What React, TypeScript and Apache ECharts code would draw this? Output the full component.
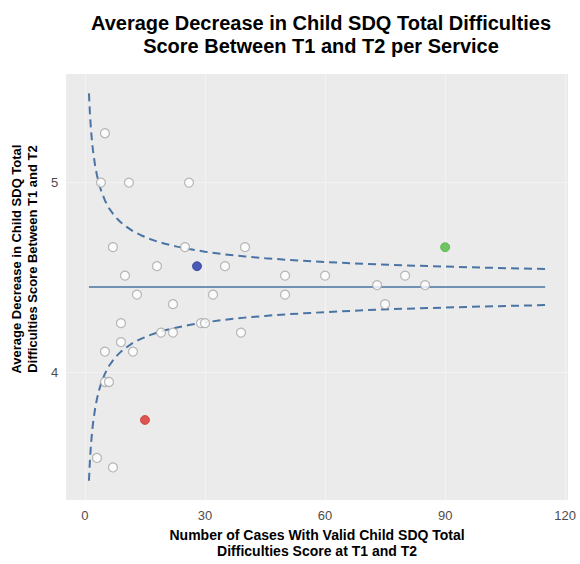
import React, { useEffect, useRef } from "react";
import * as echarts from "echarts";

const chartTitle = "Average Decrease in Child SDQ Total Difficulties\nScore Between T1 and T2 per Service";
const xAxisName = "Number of Cases With Valid Child SDQ Total\nDifficulties Score at T1 and T2";
const yAxisName = "Average Decrease in Child SDQ Total\nDifficulties Score Between T1 and T2";

const xTicks = [0, 30, 60, 90, 120];
const yTicks = [4, 5];

// Services (white points): number of cases, average decrease
const serviceCases = [5, 4, 11, 26, 7, 25, 40, 18, 35, 10, 50, 60, 80, 13, 32, 50, 73, 85, 22, 75, 9, 29, 30, 19, 22, 39, 9, 5, 12, 5, 6, 3, 7];
const serviceScores = [5.26, 5.0, 5.0, 5.0, 4.66, 4.66, 4.66, 4.56, 4.56, 4.51, 4.51, 4.51, 4.51, 4.41, 4.41, 4.41, 4.46, 4.46, 4.36, 4.36, 4.26, 4.26, 4.26, 4.21, 4.21, 4.21, 4.16, 4.11, 4.11, 3.95, 3.95, 3.55, 3.5];

// Highlighted services
const blueService = [28, 4.56];
const redService = [15, 3.75];
const greenService = [90, 4.66];

// Overall mean line
const meanCases = [1, 115];
const meanValue = 4.45;

// Control limits
const limitCases = [1, 1.25, 1.5, 1.75, 2, 2.5, 3, 3.5, 4, 5, 6, 7, 8, 9, 10, 12, 14, 16, 18, 20, 23, 26, 30, 35, 40, 45, 50, 60, 70, 80, 90, 100, 115];
const upperLimit = [5.47, 5.362, 5.283, 5.221, 5.171, 5.095, 5.039, 4.995, 4.96, 4.906, 4.866, 4.836, 4.811, 4.79, 4.773, 4.744, 4.723, 4.705, 4.69, 4.678, 4.663, 4.65, 4.636, 4.622, 4.611, 4.602, 4.594, 4.582, 4.572, 4.564, 4.558, 4.552, 4.545];
const lowerLimit = [3.43, 3.538, 3.617, 3.679, 3.729, 3.805, 3.861, 3.905, 3.94, 3.994, 4.034, 4.064, 4.089, 4.11, 4.127, 4.156, 4.177, 4.195, 4.21, 4.222, 4.237, 4.25, 4.264, 4.278, 4.289, 4.298, 4.306, 4.318, 4.328, 4.336, 4.342, 4.348, 4.355];

const FONT = "'Liberation Sans', Arial, Helvetica, sans-serif";

export default function App() {
  const ref = useRef<HTMLDivElement>(null);

  useEffect(() => {
    if (!ref.current) return;
    const chart = echarts.init(ref.current, undefined, { renderer: "svg" });
    const lineColor = "#4a74a3";
    const option: any = {
      animation: false,
      backgroundColor: "#ffffff",
      textStyle: { fontFamily: FONT },
      title: {
        text: chartTitle,
        left: 316,
        top: 6,
        textAlign: "center",
        textStyle: { fontFamily: FONT, fontSize: 20, fontWeight: "bold", color: "#000", lineHeight: 23 },
      },
      grid: {
        left: 65,
        right: 12,
        top: 74,
        bottom: 60,
        show: true,
        backgroundColor: "#EBEBEB",
        borderWidth: 0,
      },
      xAxis: {
        type: "value",
        min: -4.7,
        max: 120.7,
        name: xAxisName,
        nameLocation: "middle",
        nameGap: 26,
        nameTextStyle: { fontFamily: FONT, fontSize: 14, fontWeight: "bold", color: "#000", lineHeight: 16 },
        axisLine: { show: false },
        axisTick: { show: false, customValues: xTicks },
        axisLabel: { customValues: xTicks, color: "#4D4D4D", fontSize: 13, margin: 9, fontFamily: FONT },
        splitLine: { show: true, lineStyle: { color: "#F3F3F3", width: 1 } },
      },
      yAxis: {
        type: "value",
        min: 3.328,
        max: 5.572,
        name: yAxisName,
        nameLocation: "middle",
        nameGap: 21,
        nameRotate: 90,
        nameTextStyle: { fontFamily: FONT, fontSize: 13, fontWeight: "bold", color: "#000", lineHeight: 16, padding: [0, 0, 0, 56] },
        axisLine: { show: false },
        axisTick: { show: false, customValues: yTicks },
        axisLabel: { customValues: yTicks, color: "#4D4D4D", fontSize: 13, margin: 8, fontFamily: FONT },
        splitLine: { show: true, lineStyle: { color: "#F3F3F3", width: 1 } },
      },
      series: [
        {
          type: "line",
          name: "Upper limit",
          data: limitCases.map((n, i) => [n, upperLimit[i]]),
          showSymbol: false,
          lineStyle: { color: lineColor, width: 2, type: [8, 5] },
          z: 2,
        },
        {
          type: "line",
          name: "Lower limit",
          data: limitCases.map((n, i) => [n, lowerLimit[i]]),
          showSymbol: false,
          lineStyle: { color: lineColor, width: 2, type: [8, 5] },
          z: 2,
        },
        {
          type: "line",
          name: "Mean",
          data: meanCases.map((n) => [n, meanValue]),
          showSymbol: false,
          lineStyle: { color: "#4a72a0", width: 1.5 },
          z: 2,
        },
        {
          type: "scatter",
          name: "Services",
          data: serviceCases.map((n, i) => [n, serviceScores[i]]),
          symbolSize: 9,
          itemStyle: { color: "#ffffff", borderColor: "#a6a6a6", borderWidth: 1.2 },
          z: 3,
        },
        {
          type: "scatter",
          name: "Blue",
          data: [blueService],
          symbolSize: 9,
          itemStyle: { color: "#2234a8", borderColor: "#1a2a90", borderWidth: 0.8 },
          z: 4,
        },
        {
          type: "scatter",
          name: "Red",
          data: [redService],
          symbolSize: 9,
          itemStyle: { color: "#d9302a", borderColor: "#c42520", borderWidth: 0.8 },
          z: 4,
        },
        {
          type: "scatter",
          name: "Green",
          data: [greenService],
          symbolSize: 9,
          itemStyle: { color: "#4cbb3c", borderColor: "#3faa30", borderWidth: 0.8 },
          z: 4,
        },
      ],
    };
    chart.setOption(option);
    return () => chart.dispose();
  }, []);

  return <div ref={ref} style={{ width: 580, height: 564, position: "absolute", left: 0, top: 0 }} />;
}
